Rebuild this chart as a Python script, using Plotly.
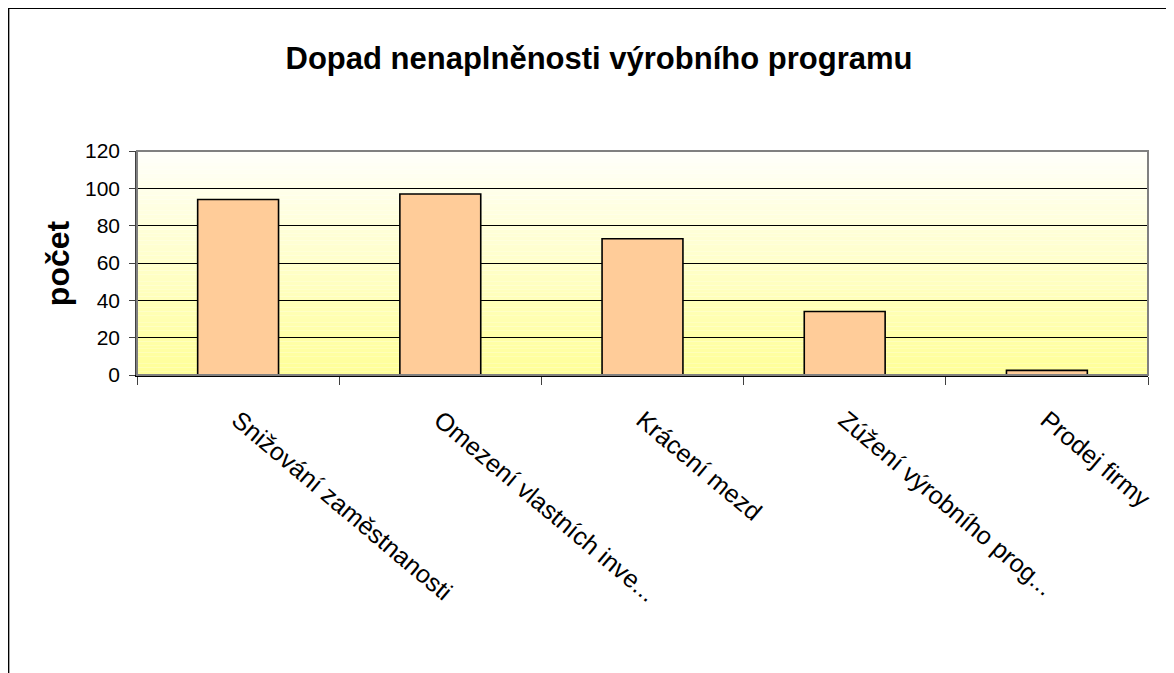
import plotly.graph_objects as go

# data
categories = ["Snižování zaměstnanosti", "Omezení vlastních inve...", "Krácení mezd",
              "Zúžení výrobního prog...", "Prodej firmy"]
values = [94, 97, 73, 34, 2.5]
y_ticks = [0, 20, 40, 60, 80, 100, 120]

FONT = "Liberation Sans, Arial, sans-serif"

fig = go.Figure()
fig.add_trace(go.Bar(x=categories, y=values,
                     marker=dict(color="#FFCC99", line=dict(color="#000000", width=1.6)),
                     showlegend=False))

# yellow -> white vertical gradient for the plot area, drawn as thin bands
n = 60
shapes = []
for i in range(n):
    t = i / (n - 1)
    b = int(round(153 + (250 - 153) * t))
    shapes.append(dict(type="rect", xref="paper", yref="paper",
                       x0=0, x1=1, y0=i / n, y1=(i + 1) / n,
                       fillcolor=f"rgb(255,255,{b})", line=dict(width=0), layer="below"))
# plot area border (grey) and outer chart frame (black)
shapes.append(dict(type="rect", xref="paper", yref="paper", x0=0, x1=1, y0=0, y1=1,
                   line=dict(color="#808080", width=2), layer="above"))
shapes.append(dict(type="rect", xref="paper", yref="paper", x0=-0.127, x1=1.1,
                   y0=-1.6, y1=1.637, line=dict(color="#000000", width=1.5), layer="above"))

fig.update_layout(
    width=1174, height=673,
    margin=dict(l=129, r=34, t=143, b=306),
    paper_bgcolor="white", plot_bgcolor="rgba(0,0,0,0)",
    bargap=0.6,
    shapes=shapes,
    title=dict(text="<b>Dopad nenaplněnosti výrobního programu</b>",
               x=591 / 1174, xref="container", xanchor="center",
               y=1 - 50 / 673, yref="container", yanchor="middle",
               font=dict(family=FONT, size=31, color="black")),
    annotations=[dict(text="<b>počet</b>", textangle=-90, x=-0.078, y=0.5,
                      xref="paper", yref="paper", xanchor="center", yanchor="middle",
                      showarrow=False,
                      font=dict(family=FONT, size=32, color="black"))],
    font=dict(family=FONT, color="black"),
)

fig.update_yaxes(range=[0, 120], tickvals=y_ticks, showgrid=True,
                 gridcolor="#000000", gridwidth=1, zeroline=False,
                 showline=True, linecolor="#404040", linewidth=1.5,
                 ticks="outside", ticklen=6, tickcolor="#404040",
                 ticklabelstandoff=5,
                 tickfont=dict(family=FONT, size=21, color="black"))
fig.update_xaxes(showline=True, linecolor="#000000", linewidth=1.5,
                 ticks="outside", tickson="boundaries", ticklen=8, tickcolor="#404040",
                 tickangle=40, showgrid=False, ticklabelstandoff=19,
                 tickfont=dict(family=FONT, size=25, color="black"))

fig.write_html("out.html")
